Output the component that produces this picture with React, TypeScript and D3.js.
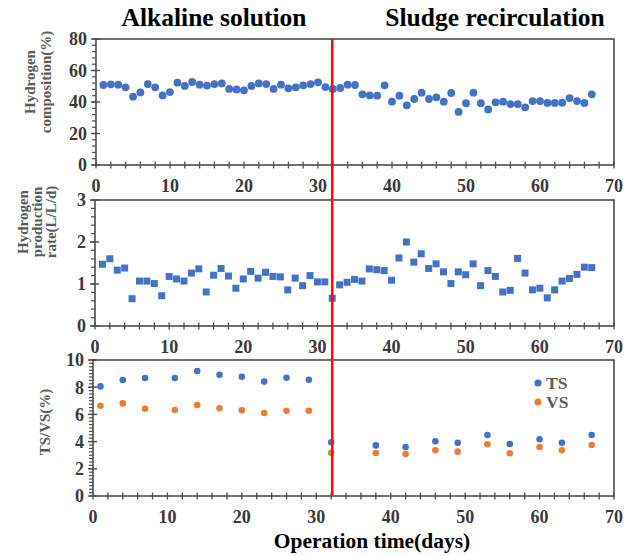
import React from "react";
import * as d3 from "d3";

const days = [1,2,3,4,5,6,7,8,9,10,11,12,13,14,15,16,17,18,19,20,21,22,23,24,25,26,27,28,29,30,31,32,33,34,35,36,37,38,39,40,41,42,43,44,45,46,47,48,49,50,51,52,53,54,55,56,57,58,59,60,61,62,63,64,65,66,67];
const h2Comp = [50.8,51.2,51,49.3,43.4,46.1,51.4,49.3,44.2,46.3,52.3,50.2,52.7,51,50.4,51.4,51.8,48.3,48,47.4,50.2,51.8,51.4,48.3,51,48.7,49.3,50.6,51.4,52.5,49.5,48.3,48.9,51,50.8,44.9,44.2,44,50.6,40.2,44,37.9,41.9,45.9,41.9,43,40.2,45.7,33.7,39.2,45.9,39.2,35.3,39.8,40.2,38.7,38.7,36.6,40.6,40.6,39.4,39.4,39.6,42.5,40.6,39.4,44.9];
const h2Rate = [1.47,1.6,1.33,1.38,0.65,1.07,1.07,1.01,0.72,1.18,1.12,1.07,1.26,1.36,0.81,1.21,1.37,1.19,0.9,1.12,1.3,1.14,1.28,1.18,1.17,0.86,1.14,0.96,1.2,1.05,1.05,0.66,0.98,1.04,1.11,1.07,1.36,1.34,1.32,1.09,1.62,2.0,1.52,1.72,1.37,1.48,1.29,1.01,1.29,1.22,1.48,0.96,1.32,1.18,0.81,0.85,1.61,1.26,0.86,0.9,0.67,0.86,1.07,1.13,1.23,1.4,1.39];
const tsDays = [1,4,7,11,14,17,20,23,26,29,32,38,42,46,49,53,56,60,63,67];
const tsVals = [8.06,8.53,8.68,8.68,9.19,8.92,8.77,8.41,8.7,8.55,3.95,3.72,3.6,4.02,3.92,4.49,3.82,4.17,3.92,4.49];
const vsVals = [6.64,6.81,6.42,6.32,6.69,6.45,6.3,6.1,6.27,6.27,3.18,3.16,3.09,3.36,3.26,3.8,3.14,3.6,3.36,3.75];
const phaseTitles = ["Alkaline solution", "Sludge recirculation"];
const legendNames = ["TS", "VS"];
const switchDay = 32;
const xTicks = [0,10,20,30,40,50,60,70];

const BLUE = "#4472C4";
const ORANGE = "#ED7D31";
const AXIS = "#4d4d4d";
const FONT = "'Liberation Serif', 'Times New Roman', serif";

type Scale = d3.ScaleLinear<number, number>;
type PanelProps = {
  left: number; right: number; top: number; bottom: number;
  yMax: number; yMajor: number; yMinor: number;
  labelLines: string[]; labelX: number[]; labelY: number;
  render: (x: Scale, y: Scale) => React.ReactNode;
};

function Panel(p: PanelProps) {
  const x = d3.scaleLinear().domain([0, 70]).range([p.left, p.right]);
  const y = d3.scaleLinear().domain([0, p.yMax]).range([p.bottom, p.top]);
  const majors = d3.range(0, p.yMax + 1e-9, p.yMajor);
  const minors = d3.range(0, p.yMax + 1e-9, p.yMinor);
  const xMinor = d3.range(0, 70.001, 2);
  return (
    <g>
      <rect x={p.left} y={p.top} width={p.right - p.left} height={p.bottom - p.top} fill="none" stroke={AXIS} strokeWidth={1.6} />
      {minors.map((v, i) => (
        <line key={"ym" + i} x1={p.left - 4} x2={p.left} y1={y(v)} y2={y(v)} stroke={AXIS} strokeWidth={1.2} />
      ))}
      {majors.map((v, i) => (
        <g key={"yM" + i}>
          <line x1={p.left - 5} x2={p.left + 4} y1={y(v)} y2={y(v)} stroke={AXIS} strokeWidth={1.4} />
          <text x={p.left - 9} y={y(v)} dy="0.35em" textAnchor="end" fontFamily={FONT} fontWeight="bold" fontSize={18} fill="#3a3a3a">{v}</text>
        </g>
      ))}
      {xMinor.map((v, i) => (
        <line key={"xm" + i} x1={x(v)} x2={x(v)} y1={p.bottom - 3.5} y2={p.bottom + 3.5} stroke={AXIS} strokeWidth={1.3} />
      ))}
      {xTicks.map((v, i) => (
        <text key={"xl" + i} x={x(v)} y={p.bottom + 27} textAnchor="middle" fontFamily={FONT} fontWeight="bold" fontSize={18} fill="#3a3a3a">{v}</text>
      ))}
      {p.labelLines.map((s, i) => (
        <text key={"lab" + i} transform={`translate(${p.labelX[i]},${p.labelY}) rotate(-90)`} textAnchor="middle" fontFamily={FONT} fontWeight="bold" fontSize={15} fill="#5a5a5a">{s}</text>
      ))}
      {p.render(x, y)}
    </g>
  );
}

export default function App() {
  const redX = d3.scaleLinear().domain([0, 70]).range([95, 614])(switchDay);
  return (
    <svg width={630} height={556} style={{ position: "absolute", left: 0, top: 0, background: "#fff" }}>
      <text x={214} y={26} textAnchor="middle" fontFamily={FONT} fontWeight="bold" fontSize={25.5} fill="#000">{phaseTitles[0]}</text>
      <text x={495} y={26} textAnchor="middle" fontFamily={FONT} fontWeight="bold" fontSize={25.5} fill="#000">{phaseTitles[1]}</text>

      <Panel left={96} right={614} top={39} bottom={165} yMax={80} yMajor={20} yMinor={4}
        labelLines={["Hydrogen", "composition(%)"]} labelX={[35, 51]} labelY={82}
        render={(x, y) => days.map((d, i) => (
          <circle key={i} cx={x(d)} cy={y(h2Comp[i])} r={3.9} fill={BLUE} />
        ))} />

      <Panel left={95} right={614} top={200} bottom={326} yMax={3} yMajor={1} yMinor={0.2}
        labelLines={["Hydrogen", "production", "rate(L/L/d)"]} labelX={[28, 42, 56]} labelY={222}
        render={(x, y) => days.map((d, i) => (
          <rect key={i} x={x(d) - 3.5} y={y(h2Rate[i]) - 3.5} width={7} height={7} fill={BLUE} />
        ))} />

      <Panel left={93} right={614} top={360} bottom={496} yMax={10} yMajor={2} yMinor={0.25}
        labelLines={["TS/VS(%)"]} labelX={[50]} labelY={422}
        render={(x, y) => (
          <g>
            {tsDays.map((d, i) => (
              <circle key={"ts" + i} cx={x(d)} cy={y(tsVals[i])} r={3.3} fill={BLUE} />
            ))}
            {tsDays.map((d, i) => (
              <circle key={"vs" + i} cx={x(d)} cy={y(vsVals[i])} r={3.3} fill={ORANGE} />
            ))}
            <circle cx={538} cy={383} r={3.6} fill={BLUE} />
            <text x={546} y={389} fontFamily={FONT} fontWeight="bold" fontSize={17.5} fill="#5a5a5a">{legendNames[0]}</text>
            <circle cx={538} cy={402} r={3.6} fill={ORANGE} />
            <text x={546} y={408} fontFamily={FONT} fontWeight="bold" fontSize={17.5} fill="#5a5a5a">{legendNames[1]}</text>
          </g>
        )} />

      <line x1={redX} x2={redX} y1={39} y2={496} stroke="#ee1111" strokeWidth={2.6} />

      <text x={372} y={548} textAnchor="middle" fontFamily={FONT} fontWeight="bold" fontSize={21.5} fill="#000">Operation time(days)</text>
    </svg>
  );
}
